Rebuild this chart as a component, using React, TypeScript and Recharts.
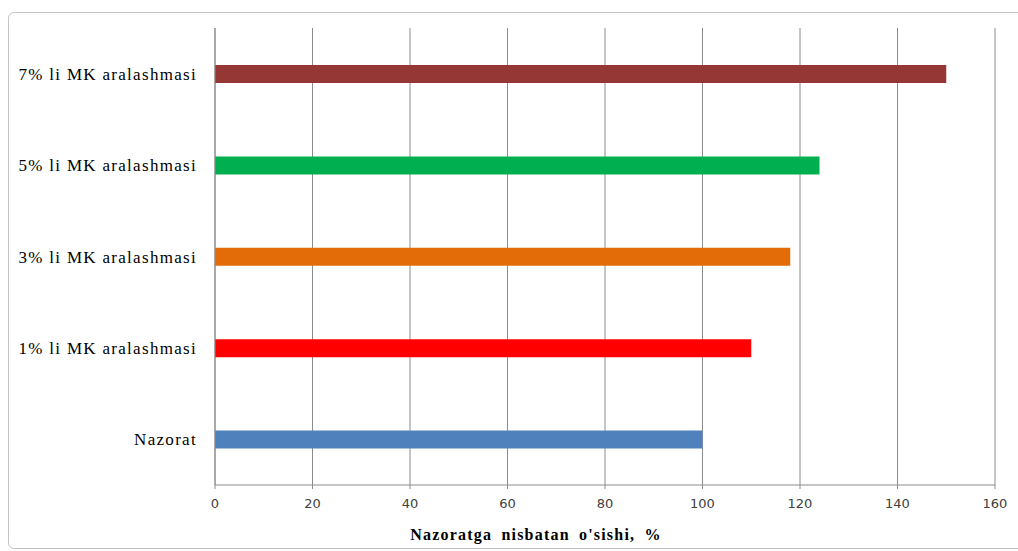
import { Bar, BarChart, CartesianGrid, Cell, Label, XAxis, YAxis } from "recharts";

const categories = [
  "7% li MK aralashmasi",
  "5% li MK aralashmasi",
  "3% li MK aralashmasi",
  "1% li MK aralashmasi",
  "Nazorat",
];
const growth = [150, 124, 118, 110, 100];
const barColors = ["#953735", "#00B050", "#E36C09", "#FF0000", "#4F81BD"];
const xTicks = [0, 20, 40, 60, 80, 100, 120, 140, 160];

const GRID = "#8c8c8c";

export default function App() {
  const data = categories.map((name, i) => ({ name, value: growth[i] }));
  return (
    <div style={{ position: "absolute", left: 0, top: 0, width: 1018, height: 551, overflow: "hidden", background: "#fff" }}>
      <div
        style={{
          position: "absolute",
          left: 8,
          top: 12,
          width: 1040,
          height: 535,
          border: "1px solid #c4c4c4",
          borderRadius: 6,
        }}
      />
      <div style={{ position: "absolute", left: 0, top: 0 }}>
        <BarChart
          width={1018}
          height={551}
          data={data}
          layout="vertical"
          margin={{ top: 28, right: 23, left: 10, bottom: 36 }}
        >
          <CartesianGrid horizontal={false} stroke={GRID} strokeWidth={1} />
          <XAxis
            type="number"
            domain={[0, 160]}
            ticks={xTicks}
            height={30}
            stroke={GRID}
            tickSize={4}
            tickMargin={10}
            tick={{ fontSize: 13, fill: "#404040", fontFamily: "DejaVu Sans" }}
          >
            <Label
              value="Nazoratga nisbatan o'sishi, %"
              position="bottom"
              offset={14}
              dx={-69}
              style={{
                fontFamily: "Liberation Serif",
                fontWeight: "bold",
                fontSize: 16,
                fill: "#000",
                letterSpacing: 1.2,
                wordSpacing: 4,
              }}
            />
          </XAxis>
          <YAxis
            type="category"
            dataKey="name"
            width={205}
            stroke={GRID}
            tickLine={false}
            tickSize={8}
            tickMargin={10}
            tick={{ fontSize: 17, fill: "#000", fontFamily: "Liberation Serif", letterSpacing: 1.3 }}
          />
          <Bar dataKey="value" barSize={18} isAnimationActive={false}>
            {data.map((d, i) => (
              <Cell key={d.name} fill={barColors[i]} />
            ))}
          </Bar>
        </BarChart>
      </div>
    </div>
  );
}
